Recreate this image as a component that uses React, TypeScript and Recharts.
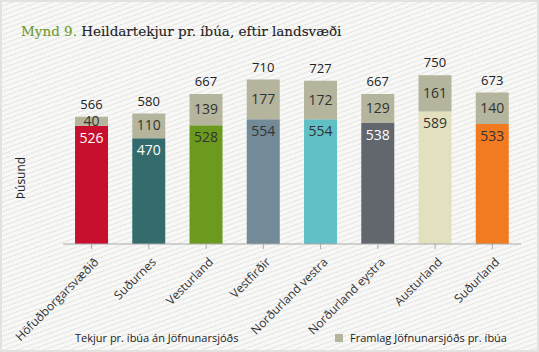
import { BarChart, Bar, XAxis, YAxis, Cell, LabelList } from 'recharts';

const regions = [
  'Höfuðborgarsvæðið',
  'Suðurnes',
  'Vesturland',
  'Vestfirðir',
  'Norðurland vestra',
  'Norðurland eystra',
  'Austurland',
  'Suðurland',
];
const baseIncome = [526, 470, 528, 554, 554, 538, 589, 533];
const equalization = [40, 110, 139, 177, 172, 129, 161, 140];
const totals = [566, 580, 667, 710, 727, 667, 750, 673];

const regionColors = ['#C8102E', '#346C6E', '#6C9A1F', '#738A98', '#61C0C5', '#62666D', '#E3E0C0', '#F27A21'];
const baseLabelColors = ['#fff', '#fff', '#333', '#333', '#333', '#fff', '#333', '#333'];
const EQ_COLOR = '#B4B59C';
const FONT = '"Open Sans", "DejaVu Sans", sans-serif';

const data = regions.map((name, i) => ({
  name,
  base: baseIncome[i],
  eq: equalization[i],
  total: totals[i],
}));

// label near the top of the base segment
const BaseLabel = (props: any) => {
  const { x, y, width, value, index } = props;
  return (
    <text x={x + width / 2} y={y + 17} textAnchor="middle" fill={baseLabelColors[index]} fontSize={14} fontFamily={FONT}>
      {value}
    </text>
  );
};

// label centred in the equalization segment
const EqLabel = (props: any) => {
  const { x, y, width, height, value } = props;
  return (
    <text x={x + width / 2} y={y + height / 2 + 4.5} textAnchor="middle" fill="#333" fontSize={14} fontFamily={FONT}>
      {value}
    </text>
  );
};

const TotalLabel = (props: any) => {
  const { x, y, width, index } = props;
  return (
    <text x={x + width / 2} y={y - 8} textAnchor="middle" fill="#222" fontSize={13} fontFamily={FONT}>
      {totals[index]}
    </text>
  );
};

const RotatedTick = (props: any) => {
  const { x, y, payload } = props;
  return (
    <g transform={`translate(${x + 5},${y + 9})`}>
      <text transform="rotate(-45)" textAnchor="end" fill="#333" fontSize={12} fontFamily={FONT} dy={4}>
        {payload.value}
      </text>
    </g>
  );
};

export default function App() {
  return (
    <div
      style={{
        position: 'absolute',
        left: 0,
        top: 0,
        width: 539,
        height: 352,
        boxSizing: 'border-box',
        border: '2px solid #E2E2E0',
        background:
          'repeating-linear-gradient(160deg, #F8F8F7 0px, #F8F8F7 3px, #EBEBE9 3px, #EBEBE9 4.5px)',
        overflow: 'hidden',
      }}
    >
      <div
        style={{
          position: 'absolute',
          left: 19,
          top: 21,
          fontFamily: '"DejaVu Serif", serif',
          fontSize: 13.5,
          color: '#222',
          whiteSpace: 'nowrap',
          WebkitTextStroke: '0.12px',
        }}
      >
        <span style={{ color: '#6E9A2E' }}>Mynd 9.</span> Heildartekjur pr. íbúa, eftir landsvæði
      </div>
      <div
        style={{
          position: 'absolute',
          left: 18,
          top: 176,
          transform: 'translate(-50%, -50%) rotate(-90deg)',
          fontFamily: FONT,
          fontSize: 12,
          color: '#222',
          whiteSpace: 'nowrap',
        }}
      >
        Þúsund
      </div>
      <div style={{ position: 'absolute', left: -2, top: -2 }}>
        <BarChart
          width={539}
          height={352}
          data={data}
          margin={{ top: 64, right: 18, left: 63, bottom: 28 }}
          barCategoryGap="21%"
        >
          <XAxis
            dataKey="name"
            interval={0}
            height={80}
            stroke="#AAAAAA"
            tickSize={5}
            tickLine={{ stroke: '#AAAAAA' }}
            tick={<RotatedTick />}
          />
          <YAxis hide domain={[0, 800]} />
          <Bar dataKey="base" stackId="a" isAnimationActive={false}>
            {data.map((_, i) => (
              <Cell key={i} fill={regionColors[i]} />
            ))}
            <LabelList dataKey="base" content={BaseLabel} />
          </Bar>
          <Bar dataKey="eq" stackId="a" fill={EQ_COLOR} isAnimationActive={false}>
            <LabelList dataKey="eq" content={EqLabel} />
            <LabelList dataKey="total" content={TotalLabel} />
          </Bar>
        </BarChart>
      </div>
      <div style={{ position: 'absolute', left: -2, top: 328, width: 539, fontFamily: FONT, fontSize: 11, color: '#222' }}>
        <span style={{ position: 'absolute', left: 75, top: 0, whiteSpace: 'nowrap' }}>
          Tekjur pr. íbúa án Jöfnunarsjóðs
        </span>
        <span style={{ position: 'absolute', left: 335, top: 4, width: 8, height: 8, background: EQ_COLOR }} />
        <span style={{ position: 'absolute', left: 350, top: 0, whiteSpace: 'nowrap' }}>
          Framlag Jöfnunarsjóðs pr. íbúa
        </span>
      </div>
    </div>
  );
}
